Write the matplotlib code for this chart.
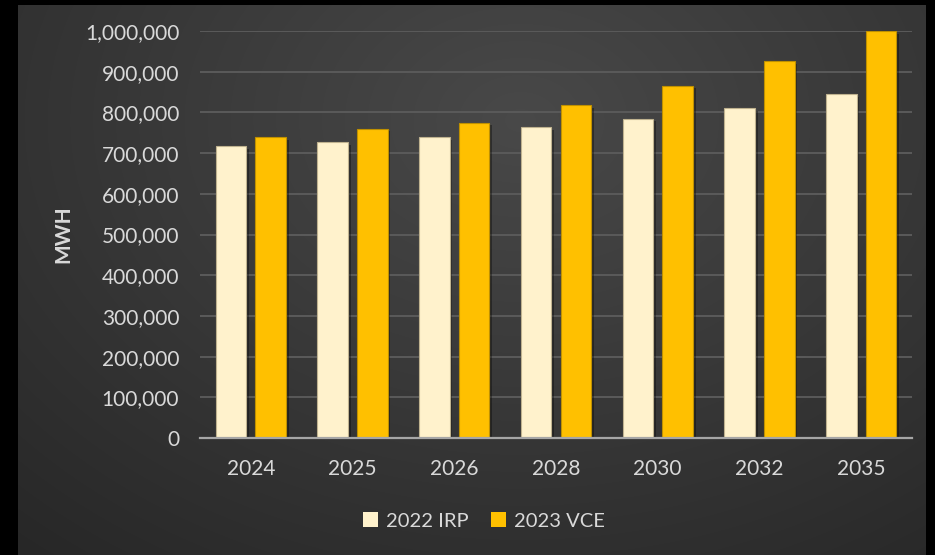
#!/usr/bin/env python3

import numpy as np
import matplotlib
matplotlib.use("Agg")
import matplotlib.pyplot as plt
import matplotlib.patheffects as pe
from matplotlib.patches import Patch
from matplotlib.ticker import FuncFormatter


years = ["2024", "2025", "2026", "2028", "2030", "2032", "2035"]
irp_2022 = [717000, 727000, 739000, 763000, 785000, 811000, 845000]
vce_2023 = [739000, 760000, 775000, 817000, 866000, 926000, 1000000]
series_names = ["2022 IRP", "2023 VCE"]

IRP_COLOR = "#FFF2CC"
VCE_COLOR = "#FFC000"
TEXT_COLOR = "#D9D9D9"
FONT = "Lato"


def draw_background(fig):
    # dark panel with a soft radial glow, black frame around it
    bg = fig.add_axes([0, 0, 1, 1], zorder=-10)
    bg.set_axis_off()
    h, w = 555, 935
    yy, xx = np.mgrid[0:h, 0:w]
    cx, cy = 520, 120
    d = np.sqrt(((xx - cx) / 700.0) ** 2 + ((yy - cy) / 520.0) ** 2)
    shade = np.clip(0.285 - 0.12 * d, 0.15, 0.30)
    img = np.dstack([shade, shade, shade])
    img[:, :18] = 0
    img[:, 926:] = 0
    img[:5, :] = 0
    bg.imshow(img, extent=[0, 1, 0, 1], aspect="auto", interpolation="bilinear")
    bg.set_xlim(0, 1)
    bg.set_ylim(0, 1)


def main():
    fig = plt.figure(figsize=(9.35, 5.55), dpi=100)
    fig.patch.set_facecolor("black")
    draw_background(fig)

    ax = fig.add_axes([200 / 935, 117 / 555, 712 / 935, 407 / 555])
    ax.set_facecolor("none")

    x = np.arange(len(years))
    width = 0.30
    offset = 0.195
    shadow = [pe.SimplePatchShadow(offset=(2, -2), shadow_rgbFace="black", alpha=0.35), pe.Normal()]

    b1 = ax.bar(x - offset, irp_2022, width, color=IRP_COLOR, edgecolor="#BFB28F",
                linewidth=0.8, zorder=3)
    b2 = ax.bar(x + offset, vce_2023, width, color=VCE_COLOR, edgecolor="#BF9000",
                linewidth=0.8, zorder=3)
    for bar in list(b1) + list(b2):
        bar.set_path_effects(shadow)

    ax.set_xlim(-0.5, len(years) - 0.5)
    ax.set_ylim(0, 1000000)
    ax.set_yticks(np.arange(0, 1000001, 100000))
    ax.yaxis.set_major_formatter(FuncFormatter(lambda v, _: f"{int(v):,}"))
    ax.set_xticks(x)
    ax.set_xticklabels(years)

    ax.grid(axis="y", color="#5A5A5A", linewidth=1.4, zorder=0)
    ax.set_axisbelow(True)
    for side in ["top", "right", "left"]:
        ax.spines[side].set_visible(False)
    ax.spines["bottom"].set_color("#A6A6A6")
    ax.spines["bottom"].set_linewidth(1.6)
    ax.spines["bottom"].set_zorder(4)

    ax.tick_params(axis="both", length=0, colors=TEXT_COLOR, labelsize=15)
    ax.tick_params(axis="y", pad=15)
    ax.tick_params(axis="x", pad=15)
    for lbl in ax.get_xticklabels() + ax.get_yticklabels():
        lbl.set_fontfamily(FONT)

    ax.set_ylabel("MWH", color=TEXT_COLOR, fontsize=15, fontweight="bold",
                  fontfamily=FONT, labelpad=8)

    handles = [Patch(facecolor=IRP_COLOR, edgecolor="none"),
               Patch(facecolor=VCE_COLOR, edgecolor="none")]
    fig.legend(handles, series_names, loc="center", bbox_to_anchor=(484 / 935, 1 - 521 / 555),
               ncol=2, frameon=False, handlelength=0.75, handleheight=0.75,
               handletextpad=0.4, columnspacing=1.1,
               prop={"family": FONT, "size": 14.5}, labelcolor=TEXT_COLOR)

    fig.savefig("out.png", dpi=100, facecolor=fig.get_facecolor())
    plt.close(fig)


if __name__ == "__main__":
    main()
